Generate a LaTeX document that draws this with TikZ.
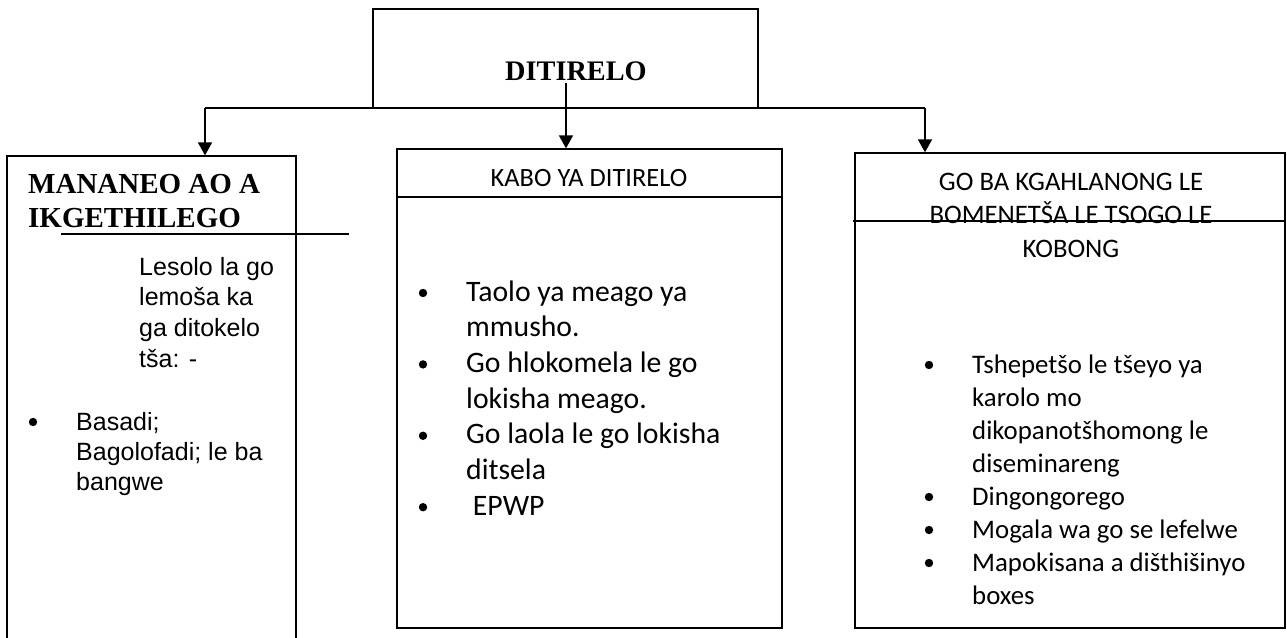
\documentclass[tikz,border=0pt]{standalone}
\usepackage{fontspec}
\usetikzlibrary{arrows.meta}
\newfontfamily\arialfont{Liberation Sans}
\newfontfamily\calibfont{Carlito}
\newfontfamily\romanfont{Liberation Serif}

\tikzset{
  box/.style={draw,line width=1.3pt,inner sep=0pt},
  arr/.style={line width=1.8pt,-{Triangle[width=14pt,length=13pt]}},
  rule/.style={line width=1.3pt},
  headtxt/.style={font=\romanfont\bfseries\fontsize{29}{34}\selectfont,inner sep=0pt},
  plaintxt/.style={font=\arialfont\fontsize{25}{30.7}\selectfont,inner sep=0pt,anchor=base west},
  midtxt/.style={font=\calibfont\fontsize{29.7}{35.7}\selectfont,inner sep=0pt,anchor=base west},
  righttxt/.style={font=\calibfont\fontsize{26.8}{33}\selectfont,inner sep=0pt,anchor=base west},
  dot/.style={radius=4.2pt}
}

\begin{document}
\begin{tikzpicture}[x=1pt,y=-1pt]
  \useasboundingbox (0,0) rectangle (1287,637);
  \clip (0,0) rectangle (1287,637);

  % top
  \node[box,minimum width=385pt,minimum height=99pt] (top) at (565.5,58.5) {};
  \node[headtxt,font=\romanfont\bfseries\fontsize{28.3}{34}\selectfont,anchor=base] (toptxt) at (576,80) {DITIRELO};

  % boxes
  \node[box,minimum width=289pt,minimum height=504pt] (lbox) at (151.5,408) {};
  \node[box,minimum width=385pt,minimum height=479pt] (mbox) at (589.5,388.5) {};
  \node[box,minimum width=430pt,minimum height=475pt] (rbox) at (1070,390.5) {};

  % connectors
  \coordinate (jl) at (205,108);
  \coordinate (jr) at (925,108);
  \coordinate (jm) at (566,83);
  \draw[rule] (jl) -- (jr);
  \draw[arr] (jl) -- (jl |- lbox.north);
  \draw[arr] (jm) -- (jm |- mbox.north);
  \draw[arr] (jr) -- (jr |- rbox.north);

  % left box
  \node[headtxt,anchor=base west] (lt1) at (28,193) {MANANEO AO A};
  \node[headtxt,anchor=base west] (lt2) at (28,227) {IKGETHILEGO};
  \coordinate (ul1) at (61,234);
  \coordinate (ul2) at (349,234);
  \draw[rule] (ul1) -- (ul2);
  \foreach \txt [count=\i] in {Lesolo la go,lemoša ka,ga ditokelo,tša: -}
    \node[plaintxt] (lp\i) at ({139},{244.3+30.7*\i}) {\txt};
  \foreach \txt [count=\i] in {Basadi;,Bagolofadi; le ba,bangwe}
    \node[plaintxt] (lb\i) at ({76},{400+30*\i}) {\txt};
  \fill ([shift={(-43pt,8pt)}]lb1.base west) circle[dot];

  % middle box
  \draw[rule] (mbox.west |- 0,197) -- (mbox.east |- 0,197);
  \node[font=\calibfont\fontsize{26.4}{30}\selectfont,inner sep=0pt,anchor=base] (mt) at (589,186) {KABO YA DITIRELO};
  \foreach \txt [count=\i] in {Taolo ya meago ya,mmusho.,Go hlokomela le go,lokisha meago.,Go laola le go lokisha,ditsela,\ EPWP}
    \node[midtxt] (mid\i) at ({466},{265.3+35.7*\i}) {\txt};
  \foreach \i in {1,3,5,7}
    \fill ([shift={(-43pt,8pt)}]mid\i.base west) circle[dot];

  % right box
  \draw[rule] (853,221) -- (rbox.east |- 0,221);
  \foreach \txt [count=\i] in {GO BA KGAHLANONG LE,BOMENETŠA LE TSOGO LE,KOBONG}
    \node[font=\calibfont\fontsize{26.7}{33}\selectfont,inner sep=0pt,anchor=base] (rt\i) at ({1071},{156.5+33.5*\i}) {\txt};
  \foreach \txt [count=\i] in {Tshepetšo le tšeyo ya,karolo mo,dikopanotšhomong le,diseminareng,Dingongorego,Mogala wa go se lefelwe,Mapokisana a dišthišinyo,boxes}
    \node[righttxt] (rb\i) at ({972},{340+33*\i}) {\txt};
  \foreach \i in {1,5,6,7}
    \fill ([shift={(-43pt,8pt)}]rb\i.base west) circle[dot];
\end{tikzpicture}
\end{document}
